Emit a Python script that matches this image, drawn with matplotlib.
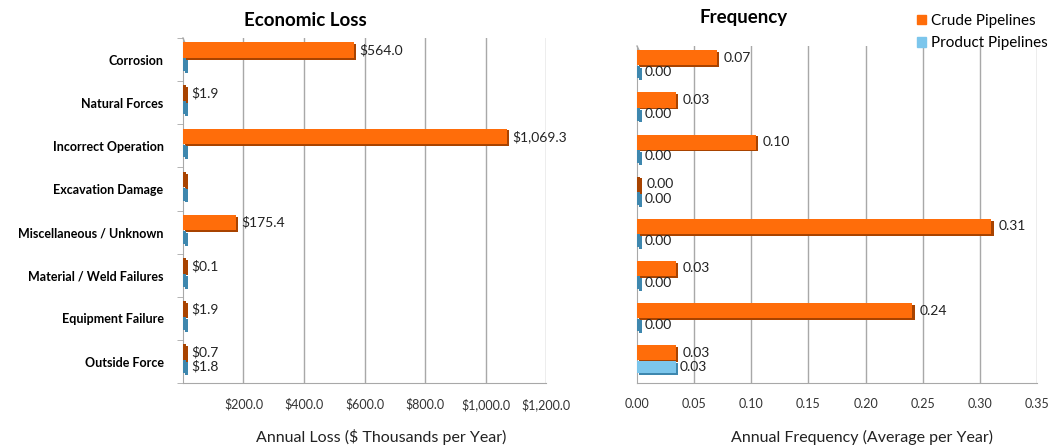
import numpy as np
import matplotlib.pyplot as plt
from matplotlib.transforms import ScaledTranslation
from matplotlib.patches import Patch

plt.rcParams['font.family'] = ['Lato', 'DejaVu Sans']

categories = ['Corrosion', 'Natural Forces', 'Incorrect Operation', 'Excavation Damage',
              'Miscellaneous / Unknown', 'Material / Weld Failures', 'Equipment Failure',
              'Outside Force']

# economic loss, $ thousands per year
loss_crude = [564.0, 1.9, 1069.3, 0.0, 175.4, 0.1, 1.9, 0.7]
loss_product = [0.0, 0.0, 0.0, 0.0, 0.0, 0.0, 0.0, 1.8]
loss_crude_labels = ['$564.0', '$1.9', '$1,069.3', None, '$175.4', '$0.1', '$1.9', '$0.7']
loss_product_labels = [None, None, None, None, None, None, None, '$1.8']

# annual frequency
freq_crude = [0.07, 0.034, 0.104, 0.0, 0.31, 0.034, 0.241, 0.034]
freq_product = [0.0, 0.0, 0.0, 0.0, 0.0, 0.0, 0.0, 0.034]

loss_ticks = [200, 400, 600, 800, 1000, 1200]
freq_ticks = [0.0, 0.05, 0.10, 0.15, 0.20, 0.25, 0.30, 0.35]

ORANGE = '#FF6D0A'
ORANGE_DARK = '#A84300'
BLUE = '#7CC6EC'
BLUE_DARK = '#3E87AE'
GRID = '#A8A8A8'

fig = plt.figure(figsize=(10.54, 4.47), dpi=100)
ax1 = fig.add_axes([0.1736, 0.143, 0.3445, 0.772])
ax2 = fig.add_axes([0.6044, 0.143, 0.3795, 0.754])

y = np.arange(len(categories))
off_c, h_c = -0.22, 0.36
off_p, h_p = 0.12, 0.30


def bars_3d(ax, vals, pos, h, face, side, minlen):
    shift = ax.transData + ScaledTranslation(1.6 / 72, -1.3 / 72, fig.dpi_scale_trans)
    shown = [max(v, minlen) for v in vals]
    ax.barh(pos, shown, height=h, color=side, transform=shift, zorder=2)
    ax.barh(pos, shown, height=h, color=face, zorder=3)
    # thin bars are mostly seen from the side in the original
    for p, v, s in zip(pos, vals, shown):
        if v < minlen * 1.5:
            ax.barh(p, s, height=h, color=side, zorder=4)
    return shown


def style_axes(ax, xmax, ticks, fmt, minor=True):
    ax.set_xlim(0, xmax)
    ax.set_ylim(len(categories) - 0.5, -0.5)
    for s in ['top', 'right']:
        ax.spines[s].set_visible(False)
    ax.spines['left'].set_color(GRID)
    ax.spines['bottom'].set_color(GRID)
    for t in ticks:
        if t > 0:
            ax.axvline(t, color=GRID, lw=1.0, zorder=1)
    ax.set_xticks(ticks)
    ax.set_xticklabels([fmt(t) for t in ticks], fontsize=9, color='#333333')
    ax.tick_params(axis='x', length=0, pad=11)
    ax.set_yticks(y)
    if minor:
        ax.set_yticks(np.arange(len(categories) + 1) - 0.5, minor=True)
        ax.tick_params(axis='y', which='minor', length=4, color=GRID)
    ax.tick_params(axis='y', which='major', length=0)
    # little 3d corner at the top of the wall
    ax.plot([0, xmax * 0.012], [-0.5, -0.25], color=GRID, lw=1, clip_on=False)


# ---- Economic loss
sh1 = bars_3d(ax1, loss_crude, y + off_c, h_c, ORANGE, ORANGE_DARK, 9)
sh2 = bars_3d(ax1, loss_product, y + off_p, h_p, BLUE, BLUE_DARK, 9)
style_axes(ax1, 1200, loss_ticks, lambda t: '${:,.1f}'.format(t))
ax1.set_yticklabels(categories, fontsize=9, fontweight='bold')
ax1.tick_params(axis='y', which='major', pad=14)
for p, s, lab in zip(y + off_c, sh1, loss_crude_labels):
    if lab:
        ax1.annotate(lab, (s, p), xytext=(4, 0), textcoords='offset points',
                     va='center', ha='left', fontsize=10, color='#222222')
for p, s, lab in zip(y + off_p, sh2, loss_product_labels):
    if lab:
        ax1.annotate(lab, (s, p), xytext=(4, 0), textcoords='offset points',
                     va='center', ha='left', fontsize=10, color='#222222')

# ---- Frequency
sh3 = bars_3d(ax2, freq_crude, y + off_c, h_c, ORANGE, ORANGE_DARK, 0.0026)
sh4 = bars_3d(ax2, freq_product, y + off_p, h_p, BLUE, BLUE_DARK, 0.0026)
style_axes(ax2, 0.35, freq_ticks, lambda t: '{:.2f}'.format(t), minor=False)
ax2.set_yticklabels([])
for p, s, v in zip(y + off_c, sh3, freq_crude):
    ax2.annotate('{:.2f}'.format(v), (s, p), xytext=(5, 0), textcoords='offset points',
                 va='center', ha='left', fontsize=10, color='#222222')
for p, s, v in zip(y + off_p, sh4, freq_product):
    ax2.annotate('{:.2f}'.format(v), (s, p), xytext=(3, 0), textcoords='offset points',
                 va='center', ha='left', fontsize=10, color='#222222')

fig.text(305 / 1054, 1 - 20 / 447, 'Economic Loss', ha='center', va='center',
         fontsize=13.5, fontweight='bold')
fig.text(744 / 1054, 1 - 18 / 447, 'Frequency', ha='center', va='center',
         fontsize=13.5, fontweight='bold')
fig.text(381 / 1054, 1 - 437 / 447, 'Annual Loss ($ Thousands per Year)', ha='center',
         va='center', fontsize=11.5, color='#222222')
fig.text(862 / 1054, 1 - 437 / 447, 'Annual Frequency (Average per Year)', ha='center',
         va='center', fontsize=11.5, color='#222222')

handles = [Patch(color=ORANGE), Patch(color=BLUE)]
fig.legend(handles, ['Crude Pipelines', 'Product Pipelines'], loc='upper left',
           bbox_to_anchor=(903 / 1054, 1 - 0 / 447), frameon=False, fontsize=11,
           handlelength=0.6, handleheight=0.6, handletextpad=0.35, labelspacing=0.55)

fig.savefig('out.png', dpi=100)
